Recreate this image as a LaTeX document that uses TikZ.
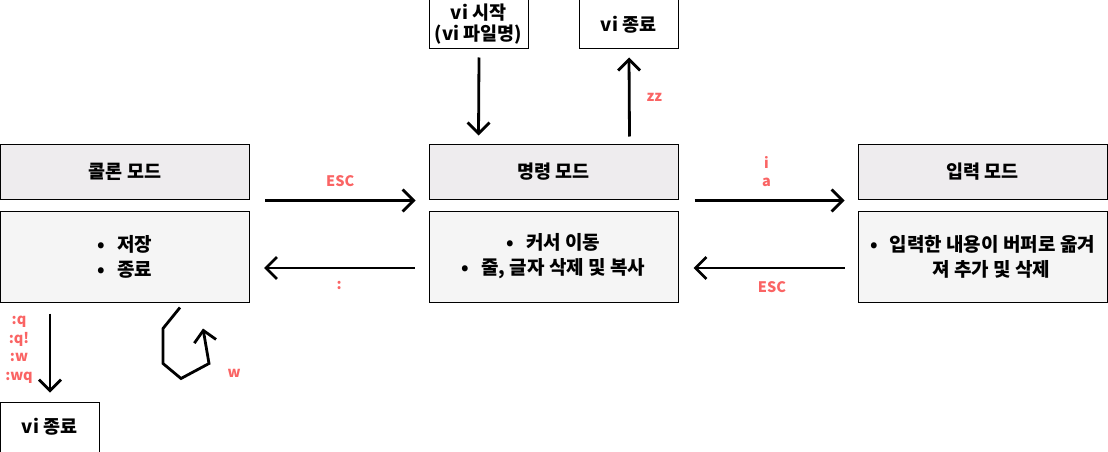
\documentclass[tikz,border=0pt]{standalone}
\usepackage{fontspec}
\setmainfont{Noto Sans CJK KR}
\usetikzlibrary{arrows.meta,calc}
\definecolor{lbl}{RGB}{250,100,100}
\definecolor{hdr}{RGB}{238,236,238}
\definecolor{bdy}{RGB}{245,245,245}
\newcommand{\bul}{•\hspace{12pt}}
\tikzset{
  box/.style={draw, line width=1pt, inner sep=0pt, align=center, font=\bfseries\fontsize{18.5}{25}\selectfont},
  hbox/.style={box, fill=hdr, minimum width=249pt, minimum height=55pt},
  bbox/.style={box, fill=bdy, minimum width=249pt, minimum height=91pt, font=\bfseries\fontsize{19}{25}\selectfont},
  wbox/.style={box, fill=white, minimum width=99pt, minimum height=49pt, font=\bfseries\fontsize{18.5}{21}\selectfont},
  conn/.style={line width=2.8pt, -{Straight Barb[length=11pt,width=22pt]}},
  lab/.style={text=lbl, font=\bfseries\fontsize{14.5}{18.5}\selectfont, inner sep=0pt, align=center}
}
\begin{document}
\begin{tikzpicture}[x=1pt,y=-1pt]
\useasboundingbox (0,0) rectangle (1108,452);
\node[hbox] (colonH) at (125,171.5) {콜론 모드};
\node[bbox] (colonB) at (125,256.5) {\bul 저장\\\bul 종료};
\node[hbox] (cmdH) at (553.5,171.5) {명령 모드};
\node[bbox] (cmdB) at (553.5,256.5) {\bul 커서 이동\\\bul 줄, 글자 삭제 및 복사};
\node[hbox] (insH) at (982.5,171.5) {입력 모드};
\node[bbox] (insB) at (982.5,256.5) {\bul 입력한 내용이 버퍼로 옮겨\\\hspace{18pt}져 추가 및 삭제};
\node[wbox] (start) at (478.5,24.5) {vi 시작\\(vi 파일명)};
\node[wbox] (endT) at (628.5,24.5) {vi 종료};
\node[wbox, minimum height=50pt] (endB) at (49.5,427) {vi 종료};

\draw[conn] ($(colonH.south east)+(15,1)$) -- ($(cmdH.south west)+(-13,1)$)
  node[lab, pos=0.5, above=12pt] (l1) {ESC};
\draw[conn] ($(cmdB.west)+(-14,11.5)$) -- ($(colonB.east)+(14,11.5)$)
  node[lab, pos=0.5, below=12pt] (l2) {:};
\draw[conn] ($(cmdH.south east)+(16,1)$) -- ($(insH.south west)+(-13,1)$)
  node[lab, pos=0.48, above=12pt] (l3) {i\\a};
\draw[conn] ($(insB.west)+(-13,11.5)$) -- ($(cmdB.east)+(15,11.5)$)
  node[lab, pos=0.48, below=12pt] (l4) {ESC};
\draw[conn] ($(start.south)+(0.5,8)$) -- ($(cmdH.north west)+(50,-8)$);
\draw[conn] ($(cmdH.north east)+(-49,-7)$) -- ($(endT.south)+(0.5,8)$)
  node[lab, pos=0.5, right=16pt] (l5) {zz};
\draw[conn] ($(colonB.south west)+(50,11)$) -- ($(endB.north)+(0.5,-9)$);
\node[lab] (l6) at (19,350) {:q\\:q!\\:w\\:wq};
\draw[line width=2.8pt, -{Straight Barb[length=11pt,width=22pt]}]
  ($(colonB.south east)+(-70,5)$) -- ++(-17,21) -- ++(0,35) -- ++(18,15) -- ++(28,-15) -- ++(-6,-35);
\node[lab] (l7) at (234,373) {w};
\end{tikzpicture}
\end{document}
